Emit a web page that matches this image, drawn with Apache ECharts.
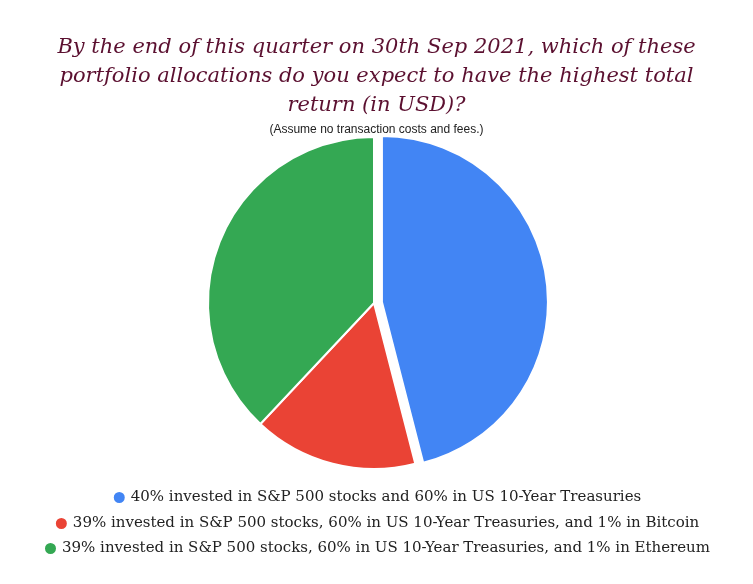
<!DOCTYPE html>
<html>
<head>
<meta charset="utf-8">
<title>portfolio poll</title>
<script src="https://cdn.jsdelivr.net/npm/echarts@6/dist/echarts.min.js"></script>
<style>html,body{margin:0;background:#fff}#main{width:753px;height:584px}</style>
</head>
<body>
<div id="main"></div>
<script>
// answer options and share of votes (percent)
const options = [
	'40% invested in S&P 500 stocks and 60% in US 10-Year Treasuries',
	'39% invested in S&P 500 stocks, 60% in US 10-Year Treasuries, and 1% in Bitcoin',
	'39% invested in S&P 500 stocks, 60% in US 10-Year Treasuries, and 1% in Ethereum'
]
const shares = [46, 16, 38]
const colors = ['#4285f4', '#ea4335', '#34a853']

const legendTops = [485, 511, 536]
const legends = options.map((name, i) => ({
	data: [name],
	top: legendTops[i],
	left: 'center',
	icon: 'circle',
	itemWidth: 13,
	itemHeight: 13,
	itemGap: 8,
	selectedMode: false,
	textStyle: {fontFamily: 'DejaVu Serif', fontSize: 15, color: '#222'}
}))

const chart = echarts.init(document.getElementById('main'))
chart.setOption({
	title: [{
		text: 'By the end of this quarter on 30th Sep 2021, which of these\nportfolio allocations do you expect to have the highest total\nreturn (in USD)?',
		left: 'center',
		top: 28,
		textStyle: {fontFamily: 'DejaVu Serif', fontStyle: 'italic', fontWeight: 'normal', fontSize: 21, lineHeight: 29, color: '#5b1030', align: 'center'}
	}, {
		text: '(Assume no transaction costs and fees.)',
		left: 'center',
		top: 119,
		textStyle: {fontFamily: 'Liberation Sans', fontWeight: 'normal', fontSize: 12, color: '#222'}
	}],
	color: colors,
	legend: legends,
	series: [{
		type: 'pie',
		center: [374, 303],
		radius: 166,
		startAngle: 90,
		selectedMode: 'single',
		selectedOffset: 8,
		animation: false,
		itemStyle: {borderColor: '#fff', borderWidth: 2},
		label: {show: false},
		labelLine: {show: false},
		data: options.map((name, i) => ({name: name, value: shares[i], selected: i === 0}))
	}, {
		// transparent overlay only to place the percent labels further out
		type: 'pie',
		center: [374, 303],
		radius: 240,
		startAngle: 90,
		silent: true,
		animation: false,
		itemStyle: {opacity: 0},
		label: {position: 'inside', formatter: '{c}%', color: '#fff', fontSize: 21, fontFamily: 'DejaVu Sans'},
		labelLine: {show: false},
		data: options.map((name, i) => ({name: name, value: shares[i]}))
	}]
})
</script>
</body>
</html>
